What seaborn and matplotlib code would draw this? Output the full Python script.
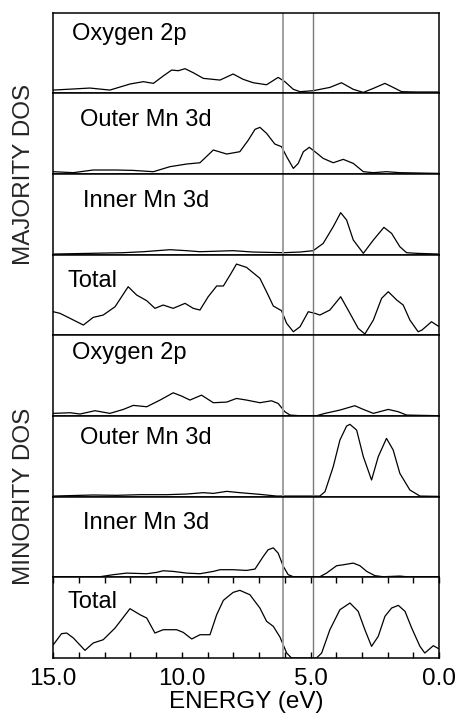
import numpy as np
import pandas as pd
import matplotlib
matplotlib.use("Agg")
import matplotlib.pyplot as plt
import seaborn as sns
from matplotlib.ticker import MultipleLocator, FormatStrFormatter

# DOS curves: energy (eV) and height as a fraction of its panel
maj_o2p_e = [15.0, 14.48, 13.58, 12.80, 12.02, 11.50, 11.11, 10.73, 10.40, 10.14, 9.88, 9.56, 9.17, 8.52, 8.01,
             7.62, 7.23, 6.71, 6.26, 6.00, 5.67, 5.41, 4.90, 4.25, 3.80, 3.34, 2.95, 2.56, 2.11, 1.79, 1.46, 0.88, 0.0]
maj_o2p_v = [0.041, 0.050, 0.066, 0.041, 0.116, 0.145, 0.124, 0.215, 0.289, 0.281, 0.306, 0.256, 0.186, 0.165, 0.240,
             0.174, 0.132, 0.107, 0.198, 0.145, 0.050, 0.021, 0.033, 0.074, 0.132, 0.050, 0.012, 0.062, 0.124, 0.074,
             0.021, 0.017, 0.017]

maj_outer_e = [15.0, 14.22, 13.45, 12.54, 11.89, 11.11, 10.47, 9.82, 9.30, 8.78, 8.26, 7.75, 7.42, 7.16, 6.97, 6.71,
               6.39, 6.13, 5.93, 5.67, 5.48, 5.28, 5.05, 4.83, 4.51, 4.12, 3.73, 3.34, 2.95, 2.56, 2.05, 1.53, 0.0]
maj_outer_v = [0.029, 0.017, 0.050, 0.050, 0.045, 0.029, 0.091, 0.124, 0.140, 0.298, 0.248, 0.277, 0.421, 0.554,
               0.579, 0.504, 0.372, 0.339, 0.215, 0.070, 0.132, 0.277, 0.331, 0.277, 0.194, 0.140, 0.182, 0.132,
               0.029, 0.017, 0.029, 0.017, 0.008]

maj_inner_e = [15.0, 12.28, 11.50, 10.47, 9.82, 9.30, 8.01, 7.23, 6.06, 5.41, 4.90, 4.51, 4.12, 3.83, 3.60, 3.34,
               2.95, 2.56, 2.15, 1.85, 1.53, 1.27, 0.88, 0.0]
maj_inner_v = [0.008, 0.025, 0.037, 0.062, 0.050, 0.037, 0.050, 0.033, 0.025, 0.033, 0.050, 0.140, 0.347, 0.521,
               0.430, 0.182, 0.017, 0.182, 0.339, 0.264, 0.099, 0.025, 0.017, 0.008]

maj_total_e = [15.0, 14.74, 14.35, 13.83, 13.45, 13.06, 12.60, 12.09, 11.76, 11.37, 11.05, 10.73, 10.34, 9.88, 9.56,
               9.30, 8.98, 8.65, 8.39, 8.13, 7.88, 7.49, 6.97, 6.65, 6.45, 6.13, 5.93, 5.67, 5.41, 5.09, 4.83, 4.64,
               4.25, 3.83, 3.47, 3.15, 2.89, 2.56, 2.24, 1.98, 1.65, 1.40, 1.14, 0.82, 0.67, 0.30, 0.0]
maj_total_v = [0.293, 0.273, 0.211, 0.128, 0.223, 0.252, 0.355, 0.603, 0.500, 0.430, 0.335, 0.376, 0.335, 0.397,
               0.335, 0.314, 0.479, 0.612, 0.612, 0.748, 0.884, 0.843, 0.707, 0.500, 0.364, 0.306, 0.149, 0.045,
               0.107, 0.293, 0.273, 0.252, 0.314, 0.479, 0.273, 0.087, 0.017, 0.190, 0.459, 0.541, 0.438, 0.376,
               0.190, 0.045, 0.066, 0.169, 0.107]

min_o2p_e = [15.0, 14.35, 13.96, 13.38, 12.80, 12.28, 11.89, 11.37, 10.85, 10.34, 10.01, 9.69, 9.24, 8.78, 8.26,
             7.88, 7.49, 6.97, 6.52, 6.26, 6.00, 5.80, 5.41, 4.77, 4.44, 3.86, 3.28, 2.95, 2.56, 1.98, 1.59, 1.27, 0.0]
min_o2p_v = [0.033, 0.041, 0.025, 0.066, 0.033, 0.082, 0.132, 0.115, 0.198, 0.288, 0.247, 0.198, 0.259, 0.165,
             0.173, 0.218, 0.198, 0.165, 0.189, 0.156, 0.053, 0.012, 0.004, 0.004, 0.033, 0.074, 0.128, 0.082,
             0.033, 0.082, 0.053, 0.012, 0.004]

min_outer_e = [15.0, 13.45, 12.54, 11.63, 10.60, 9.82, 9.17, 8.78, 8.26, 7.75, 6.97, 6.32, 6.06, 4.64, 4.44, 4.12,
               3.86, 3.60, 3.47, 3.21, 2.95, 2.63, 2.37, 2.05, 1.79, 1.53, 1.14, 0.75, 0.0]
min_outer_v = [0.008, 0.021, 0.017, 0.025, 0.025, 0.033, 0.050, 0.041, 0.066, 0.050, 0.029, 0.008, 0.008, 0.008,
               0.062, 0.372, 0.702, 0.876, 0.897, 0.826, 0.496, 0.207, 0.496, 0.723, 0.579, 0.289, 0.083, 0.008,
               0.004]

min_inner_e = [15.0, 13.19, 12.67, 12.15, 11.37, 10.98, 10.73, 10.34, 9.82, 9.30, 8.78, 8.52, 8.01, 7.49, 7.16,
               6.84, 6.65, 6.45, 6.26, 6.06, 5.87, 5.67, 4.64, 4.38, 3.99, 3.73, 3.34, 3.08, 2.82, 2.50, 2.18, 1.53,
               1.27, 0.0]
min_inner_v = [0.008, 0.008, 0.033, 0.053, 0.045, 0.062, 0.082, 0.074, 0.053, 0.045, 0.074, 0.095, 0.095, 0.086,
               0.103, 0.259, 0.342, 0.366, 0.300, 0.136, 0.033, 0.008, 0.008, 0.053, 0.144, 0.156, 0.177, 0.144,
               0.074, 0.021, 0.008, 0.016, 0.008, 0.008]

min_total_e = [15.0, 14.68, 14.48, 14.22, 13.77, 13.45, 13.06, 12.60, 12.02, 11.63, 11.37, 11.05, 10.73, 10.21,
               9.95, 9.62, 9.30, 8.91, 8.65, 8.39, 8.01, 7.75, 7.36, 6.97, 6.71, 6.45, 6.19, 5.93, 5.74, 4.77, 4.57,
               4.25, 3.86, 3.47, 3.15, 2.89, 2.63, 2.37, 2.11, 1.85, 1.59, 1.33, 1.07, 0.75, 0.56, 0.23, 0.0]
min_total_v = [0.165, 0.302, 0.310, 0.248, 0.095, 0.186, 0.227, 0.372, 0.612, 0.537, 0.496, 0.310, 0.351, 0.351,
               0.318, 0.236, 0.289, 0.289, 0.537, 0.715, 0.814, 0.839, 0.785, 0.620, 0.455, 0.393, 0.260, 0.062,
               0.0, 0.0, 0.062, 0.351, 0.599, 0.682, 0.579, 0.351, 0.145, 0.269, 0.517, 0.620, 0.653, 0.579, 0.372,
               0.145, 0.062, 0.153, 0.112]

labels = ["Oxygen 2p", "Outer Mn 3d", "Inner Mn 3d", "Total"] * 2
curves = [(maj_o2p_e, maj_o2p_v), (maj_outer_e, maj_outer_v), (maj_inner_e, maj_inner_v), (maj_total_e, maj_total_v),
          (min_o2p_e, min_o2p_v), (min_outer_e, min_outer_v), (min_inner_e, min_inner_v), (min_total_e, min_total_v)]
gap_lines = [6.08, 4.9]

sns.set_style("ticks")
plt.rcParams['font.family'] = ['Liberation Sans', 'DejaVu Sans']

fig, axes = plt.subplots(8, 1, figsize=(4.58, 7.22), dpi=100, sharex=True)
plt.subplots_adjust(left=0.1164, right=0.959, top=0.9824, bottom=0.0886, hspace=0)

label_x = [0.048, 0.069, 0.077, 0.038] * 2
label_y = [0.74, 0.67, 0.66, 0.68, 0.78, 0.73, 0.68, 0.70]

for i, ax in enumerate(axes):
    e, v = curves[i]
    df = pd.DataFrame({"energy": e, "dos": v})
    sns.lineplot(data=df, x="energy", y="dos", ax=ax, color="black", linewidth=0.9, sort=False)
    ax.axvline(gap_lines[0], color="#a0a0a0", linewidth=1.4)
    ax.axvline(gap_lines[1], color="#7a7a7a", linewidth=1.0)
    ax.set_xlim(15.0, 0.0)
    ax.set_ylim(0, 1)
    ax.set_ylabel("")
    ax.set_xlabel("")
    ax.set_yticks([])
    for s in ax.spines.values():
        s.set_visible(True)
        s.set_linewidth(1.1)
        s.set_color("black")
    ax.text(label_x[i], label_y[i], labels[i], transform=ax.transAxes, fontsize=17,
            va="center", ha="left", color="black")
    if i < 7:
        ax.tick_params(axis="x", which="both", bottom=False, top=False, labelbottom=False)

last = axes[-1]
last.xaxis.set_major_locator(MultipleLocator(5.0))
last.xaxis.set_minor_locator(MultipleLocator(1.0))
last.xaxis.set_major_formatter(FormatStrFormatter("%.1f"))
last.tick_params(axis="x", which="both", direction="in", top=True, bottom=True, length=4, width=1,
                 labelsize=17.5, pad=7, colors="black")
last.set_xlabel("ENERGY (eV)", fontsize=17.5, labelpad=1, color="black")

fig.text(0.052, 0.758, "MAJORITY DOS", rotation=90, fontsize=17.5, ha="center", va="center")
fig.text(0.052, 0.312, "MINORITY DOS", rotation=90, fontsize=17.5, ha="center", va="center")

fig.savefig("out.png", dpi=100)
